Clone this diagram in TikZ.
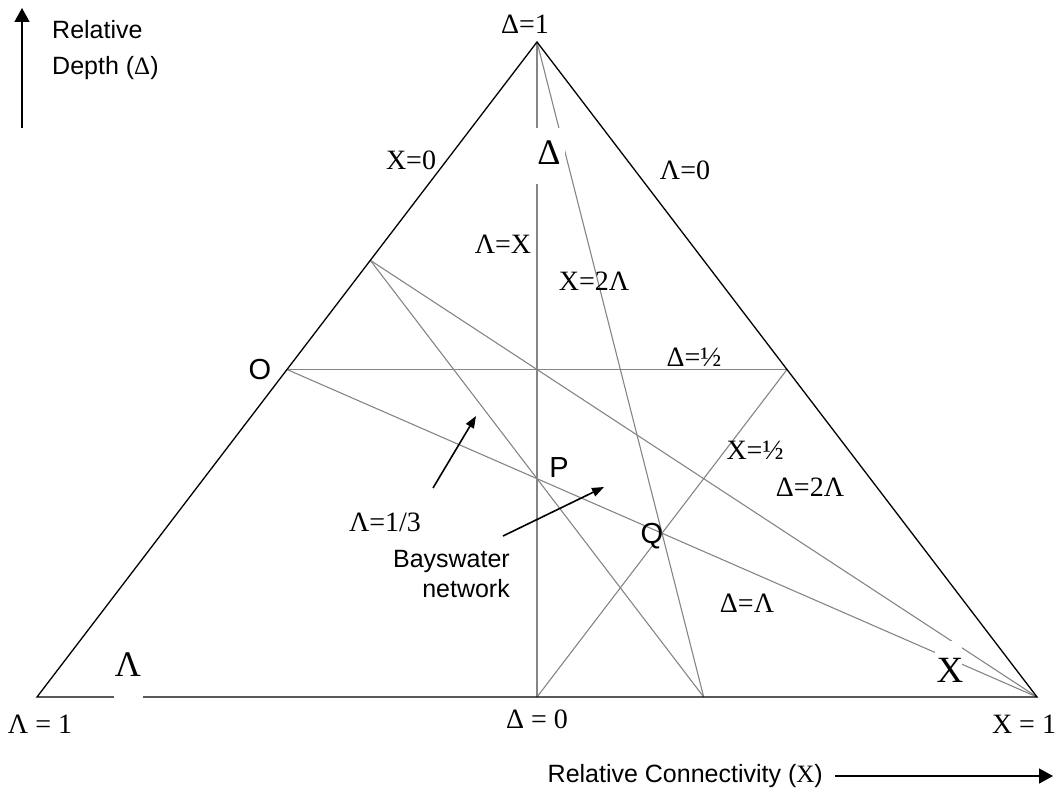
\documentclass[tikz,border=0pt]{standalone}
\usepackage{fontspec}
\setmainfont{Liberation Serif}
\setsansfont{Liberation Sans}
\usetikzlibrary{arrows.meta}
\begin{document}
\begin{tikzpicture}[x=1pt,y=-1pt,
  tri/.style={line width=1.3pt, black, line join=miter},
  guide/.style={line width=1.1pt, color=black!48},
  ser/.style={font=\fontsize{28}{32}\selectfont, inner sep=0pt},
  big/.style={font=\fontsize{36}{40}\selectfont, inner sep=0pt},
  sans/.style={font=\sffamily\fontsize{25}{30}\selectfont, inner sep=0pt},
  ptlab/.style={font=\sffamily\fontsize{29}{32}\selectfont, inner sep=0pt},
  maskbox/.style={fill=white, draw=none, inner sep=0pt},
  ptr/.style={line width=1.6pt, -{Triangle[length=12pt,width=9pt]}},
  axisarrow/.style={line width=1.6pt, -{Triangle[length=14pt,width=15pt]}}]
\useasboundingbox (0,0) rectangle (1059,791);

% corners of the ternary diagram and points on its sides
\coordinate (L) at (37,697);
\coordinate (Xv) at (1037,697);
\coordinate (D) at (537,42);
\coordinate (O) at (287,369.5);
\coordinate (R) at (787,369.5);
\coordinate (T) at (370.3,260.3);
\coordinate (M) at (537,697);
\coordinate (B) at (703.7,697);

% guide lines
\draw[guide] (D) -- (M);
\draw[guide] (D) -- (B);
\draw[guide] (O) -- (R);
\draw[guide] (R) -- (M);
\draw[guide] (T) -- (Xv);
\draw[guide] (O) -- (Xv);
\draw[guide] (T) -- (B);

% outer triangle
\draw[tri] (L) -- (D) -- (Xv) -- cycle;

% white label backgrounds
\node[maskbox, minimum width=32pt, minimum height=56pt] (dmask) at (549,156) {};
\node[maskbox, minimum width=29pt, minimum height=55pt] (lmask) at (128.5,677.5) {};
\node[maskbox, minimum width=27pt, minimum height=49pt] (xmask) at (948.5,665.5) {};

% corner letters
\node[big] (dbig) at (549,153) {Δ};
\node[big] (lbig) at (128,665) {Λ};
\node[big, font=\fontsize{37}{40}\selectfont] (xbig) at (950,670) {X};

% side and line labels
\node[ser] (d1) at (525,24) {Δ=1};
\node[ser] (x0) at (411,160) {X=0};
\node[ser] (l0) at (685,170) {Λ=0};
\node[ser] (lx) at (503,244) {Λ=X};
\node[ser] (x2l) at (594,281) {X=2Λ};
\node[ser] (dhalf) at (694,357) {Δ=½};
\node[ser] (xhalf) at (755,450) {X=½};
\node[ser] (lthird) at (385,522) {Λ=1/3};
\node[ser] (d2l) at (810,487) {Δ=2Λ};
\node[ser] (dl) at (747,603) {Δ=Λ};
\node[ser] (l1) at (40,724) {Λ = 1};
\node[ser] (d0) at (537,719) {Δ = 0};
\node[ser] (x1) at (1024,724) {X = 1};

% marked points
\node[ptlab] (olab) at (260,370) {O};
\node[ptlab] (plab) at (559,468) {P};
\node[ptlab] (qlab) at (652,536) {Q};

% annotations with pointers
\node[sans, align=right, anchor=north east] (bays) at (510,550) {Bayswater\\network};
\coordinate (p1a) at (433,488);
\coordinate (p1b) at (476,416);
\draw[ptr] (p1a) -- (p1b);
\coordinate (p2a) at (503,536);
\coordinate (p2b) at (604,487);
\draw[ptr] (p2a) -- (p2b);

% axis captions
\node[sans, align=left, anchor=north west, font=\sffamily\fontsize{25}{36}\selectfont] (ylab) at (52,20) {Relative\\Depth ({\rmfamily Δ})};
\coordinate (ya0) at (22,128);
\coordinate (ya1) at (22,8);
\draw[axisarrow] (ya0) -- (ya1);

\node[sans, anchor=east] (xlab) at (823,776) {Relative Connectivity ({\rmfamily X})};
\coordinate (xa1) at (1053,776);
\draw[axisarrow] ([xshift=12pt]xlab.east) -- (xa1);
\end{tikzpicture}
\end{document}
